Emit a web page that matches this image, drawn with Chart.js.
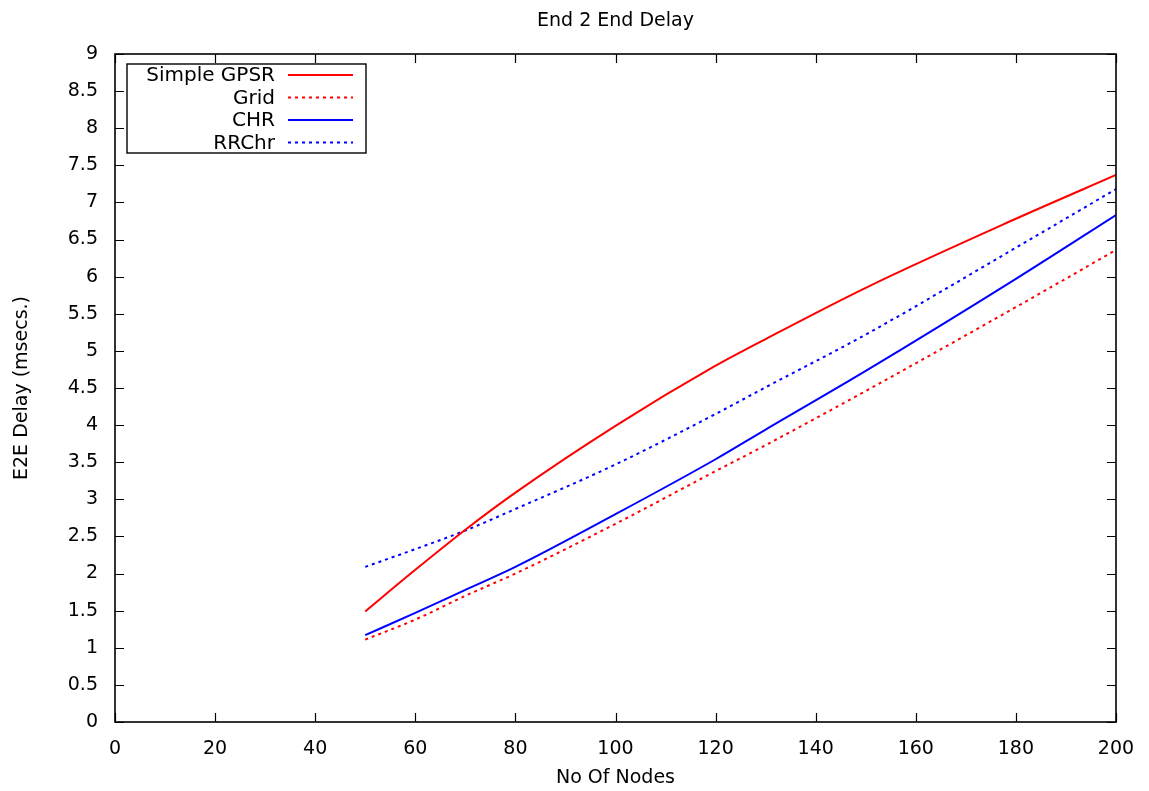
<!DOCTYPE html>
<html>
<head>
<meta charset="utf-8">
<script src="https://cdn.jsdelivr.net/npm/chart.js@4"></script>
<style>
  html, body { margin: 0; padding: 0; background: #fff; }
  #wrap { width: 1149px; height: 791px; }
</style>
</head>
<body>
<div id="wrap"><canvas id="e2eChart" width="1149" height="791"></canvas></div>
<script>
// nodes
const nodes = [50, 60, 70, 80, 100, 120, 130, 150, 180, 200];
const simpleGpsr = [1.49, 2.05, 2.59, 3.09, 3.99, 4.80, 5.16, 5.85, 6.78, 7.37];
const grid = [1.11, 1.38, 1.70, 2.00, 2.67, 3.38, 3.73, 4.46, 5.59, 6.36];
const chr = [1.17, 1.47, 1.78, 2.09, 2.80, 3.54, 3.94, 4.73, 5.97, 6.83];
const rrchr = [2.09, 2.33, 2.58, 2.87, 3.47, 4.15, 4.51, 5.22, 6.39, 7.18];

const xTicks = [0, 20, 40, 60, 80, 100, 120, 140, 160, 180, 200];
const yTicks = [0, 0.5, 1, 1.5, 2, 2.5, 3, 3.5, 4, 4.5, 5, 5.5, 6, 6.5, 7, 7.5, 8, 8.5, 9];

const FONT = '"DejaVu Sans", sans-serif';

function pts(vals) {
  return nodes.map((n, i) => ({ x: n, y: vals[i] }));
}

// gnuplot-ish frame, inward ticks, legend box and titles
const gnuplotLook = {
  id: 'gnuplotLook',
  afterDatasetsDraw(chart) {
    const ctx = chart.ctx;
    const a = chart.chartArea;
    const xs = chart.scales.x, ys = chart.scales.y;
    ctx.save();
    ctx.strokeStyle = '#000';
    ctx.lineWidth = 1.2;
    ctx.beginPath();
    xTicks.forEach(t => {
      const px = Math.round(xs.getPixelForValue(t)) + 0.5;
      ctx.moveTo(px, a.bottom); ctx.lineTo(px, a.bottom - 9);
      ctx.moveTo(px, a.top); ctx.lineTo(px, a.top + 9);
    });
    yTicks.forEach(t => {
      const py = Math.round(ys.getPixelForValue(t)) + 0.5;
      ctx.moveTo(a.left, py); ctx.lineTo(a.left + 9, py);
      ctx.moveTo(a.right, py); ctx.lineTo(a.right - 9, py);
    });
    ctx.stroke();
    ctx.lineWidth = 1.6;
    ctx.strokeRect(a.left, a.top, a.right - a.left, a.bottom - a.top);

    // legend
    const lx = a.left + 12, ly = a.top + 10, lw = 239, lh = 89;
    ctx.fillStyle = '#fff';
    ctx.fillRect(lx, ly, lw, lh);
    ctx.lineWidth = 1.4;
    ctx.strokeRect(lx, ly, lw, lh);
    ctx.font = '20px ' + FONT;
    ctx.textAlign = 'right';
    ctx.textBaseline = 'middle';
    chart.data.datasets.forEach((ds, i) => {
      const yy = ly + 11 + i * 22.5;
      ctx.fillStyle = '#000';
      ctx.fillText(ds.label, lx + 148, yy + 1);
      ctx.strokeStyle = ds.borderColor;
      ctx.lineWidth = 2;
      ctx.setLineDash(ds.borderDash || []);
      ctx.beginPath();
      ctx.moveTo(lx + 161, yy); ctx.lineTo(lx + 226, yy);
      ctx.stroke();
      ctx.setLineDash([]);
    });

    // titles
    ctx.fillStyle = '#000';
    ctx.textAlign = 'center';
    ctx.font = '19px ' + FONT;
    ctx.fillText('End 2 End Delay', (a.left + a.right) / 2, 21);
    ctx.fillText('No Of Nodes', (a.left + a.right) / 2, 778);
    ctx.translate(22, (a.top + a.bottom) / 2);
    ctx.rotate(-Math.PI / 2);
    ctx.fillText('E2E Delay (msecs.)', 0, 0);
    ctx.restore();
  }
};

const ctx = document.getElementById('e2eChart').getContext('2d');
new Chart(ctx, {
  type: 'line',
  data: {
    datasets: [
      { label: 'Simple GPSR', data: pts(simpleGpsr), borderColor: '#ff0000' },
      { label: 'Grid', data: pts(grid), borderColor: '#ff0000', borderDash: [3, 4] },
      { label: 'CHR', data: pts(chr), borderColor: '#0000ff' },
      { label: 'RRChr', data: pts(rrchr), borderColor: '#0000ff', borderDash: [3, 4] }
    ].map(d => Object.assign({
      borderWidth: 2,
      pointRadius: 0,
      fill: false,
      cubicInterpolationMode: 'monotone'
    }, d))
  },
  options: {
    responsive: false,
    animation: false,
    layout: { padding: { top: 54, right: 33, left: 0, bottom: 0 } },
    plugins: {
      legend: { display: false },
      title: { display: false },
      tooltip: { enabled: false }
    },
    scales: {
      x: {
        type: 'linear',
        min: 0,
        max: 200,
        grid: { display: false },
        border: { display: false },
        afterFit(s) { s.height = 69; },
        afterBuildTicks(s) { s.ticks = xTicks.map(v => ({ value: v })); },
        ticks: { color: '#000', padding: 8, font: { family: FONT, size: 19 }, maxRotation: 0 }
      },
      y: {
        min: 0,
        max: 9,
        grid: { display: false },
        border: { display: false },
        afterFit(s) { s.width = 115; },
        afterBuildTicks(s) { s.ticks = yTicks.map(v => ({ value: v })); },
        ticks: {
          color: '#000',
          padding: 9,
          font: { family: FONT, size: 19 },
          callback: v => String(v)
        }
      }
    }
  },
  plugins: [gnuplotLook]
});
</script>
</body>
</html>
